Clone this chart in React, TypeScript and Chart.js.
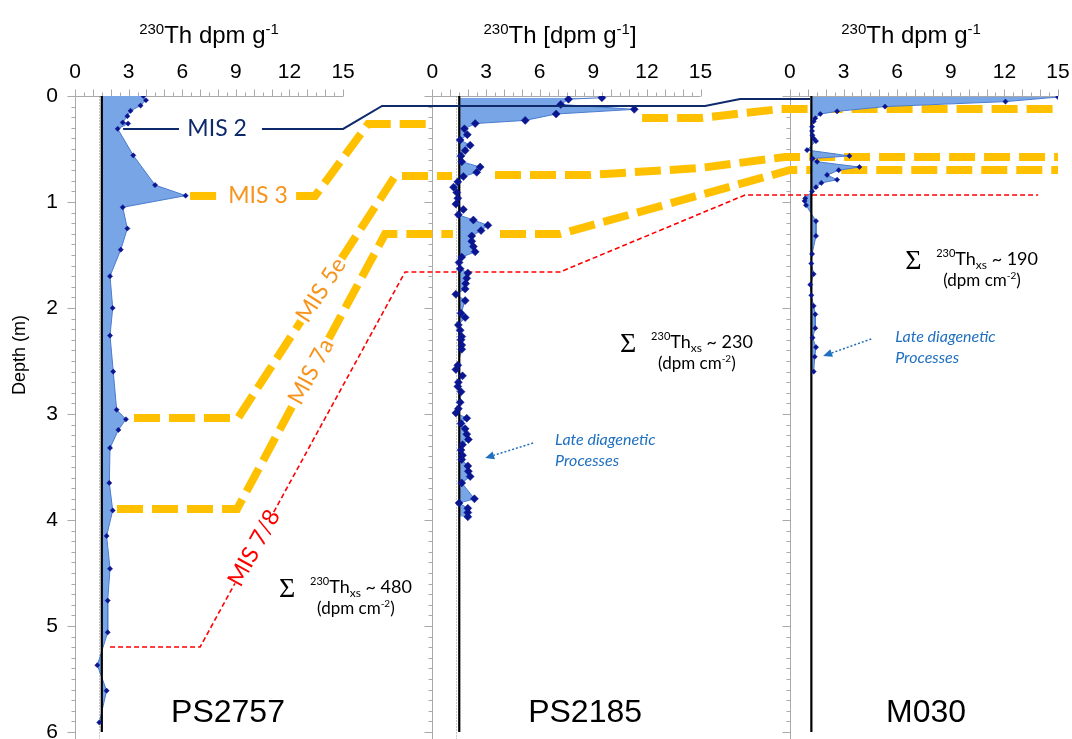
import React, { useEffect, useRef } from 'react';
import { Chart, registerables } from 'chart.js';

Chart.register(...registerables);

// ---------------- data ----------------
// each core panel is placed on one shared horizontal axis; panel n starts at panelOffsets[n]
const panelOffsets = [0, 20, 40];
const thTickValues = [0, 3, 6, 9, 12, 15];
const depthTicks = [0, 1, 2, 3, 4, 5, 6];
const coreNames = ['PS2757', 'PS2185', 'M030'];
const baselineValues = [1.5, 1.5, 1.2];
const sumValues = ['480', '230', '190'];

const ps2757Depth = [0.0, 0.04, 0.09, 0.14, 0.19, 0.25, 0.26, 0.31, 0.56, 0.84, 0.94, 1.05, 1.25, 1.45, 1.7, 2.0, 2.26, 2.6, 2.96, 3.05, 3.15, 3.32, 3.65, 3.91, 4.15, 4.46, 4.76, 5.06, 5.37, 5.61, 5.91];
const ps2757Th = [3.82, 3.97, 3.67, 3.11, 2.93, 2.67, 2.97, 2.39, 3.26, 4.48, 6.19, 2.67, 2.93, 2.56, 1.96, 2.11, 1.96, 2.14, 2.33, 2.85, 2.43, 1.96, 1.92, 2.11, 1.77, 1.96, 1.83, 1.83, 1.25, 1.77, 1.36];

const ps2185Depth = [0.016, 0.03, 0.08, 0.126, 0.17, 0.23, 0.26, 0.31, 0.365, 0.415, 0.465, 0.515, 0.565, 0.62, 0.67, 0.72, 0.76, 0.81, 0.86, 0.91, 0.965, 1.02, 1.07, 1.12, 1.17, 1.22, 1.27, 1.32, 1.37, 1.42, 1.47, 1.52, 1.57, 1.63, 1.67, 1.72, 1.77, 1.82, 1.87, 1.93, 2.05, 2.09, 2.16, 2.21, 2.27, 2.3, 2.35, 2.39, 2.54, 2.58, 2.64, 2.7, 2.74, 2.79, 2.89, 2.95, 2.99, 3.04, 3.09, 3.14, 3.19, 3.24, 3.29, 3.34, 3.39, 3.43, 3.49, 3.54, 3.59, 3.65, 3.8, 3.84, 3.89, 3.93, 3.97];
const ps2185Th = [9.48, 7.61, 7.18, 11.29, 6.92, 5.19, 2.39, 1.79, 1.95, 1.55, 2.11, 1.83, 1.6, 1.64, 2.67, 2.48, 1.73, 1.42, 1.18, 1.36, 1.42, 1.31, 1.73, 1.45, 2.29, 3.1, 2.72, 2.2, 2.2, 2.29, 2.39, 1.64, 1.49, 1.55, 1.98, 1.92, 1.86, 1.83, 1.31, 1.83, 1.6, 1.83, 1.45, 1.55, 1.64, 1.6, 1.64, 1.64, 1.42, 1.31, 1.68, 1.45, 1.42, 1.6, 1.55, 1.45, 1.31, 1.92, 1.6, 1.83, 1.92, 2.01, 1.68, 1.6, 1.68, 1.64, 1.98, 2.01, 2.11, 1.64, 2.35, 1.49, 1.98, 1.98, 1.98];

const m030Depth = [0.01, 0.053, 0.1, 0.145, 0.17, 0.21, 0.24, 0.29, 0.33, 0.37, 0.4, 0.425, 0.51, 0.565, 0.59, 0.62, 0.67, 0.7, 0.745, 0.79, 0.82, 0.86, 0.9, 0.965, 0.99, 1.03, 1.18, 1.32, 1.49, 1.58, 1.68, 1.78, 1.88, 1.98, 2.06, 2.19, 2.28, 2.37, 2.46, 2.6];
const m030Th = [15.0, 12.06, 5.32, 2.64, 1.7, 1.42, 1.33, 1.24, 1.24, 1.26, 1.33, 1.46, 0.96, 3.33, 1.27, 1.52, 3.89, 2.73, 2.08, 2.64, 1.76, 1.46, 1.24, 0.86, 0.82, 0.9, 1.46, 1.46, 1.24, 1.2, 1.33, 1.14, 1.2, 1.33, 1.42, 1.42, 1.27, 1.46, 1.39, 1.33];

// correlation lines: [shared-axis position, depth (m)]
const mis2Line = [
  [[2.69, 0.311], [5.82, 0.311]],
  [[10.46, 0.311], [15.0, 0.311], [17.18, 0.094], [35.25, 0.094], [37.21, 0.028], [41.13, 0.028]],
];
const mis3Line = [
  [[6.44, 0.943], [8.0, 0.943]],
  [[12.37, 0.943], [13.43, 0.943], [16.4, 0.264], [19.98, 0.264]],
  [[31.73, 0.208], [34.97, 0.208], [39.45, 0.123], [55.0, 0.123]],
];
const mis5eLine = [
  [[3.3, 3.038], [9.12, 3.038], [12.64, 2.125]],
  [[14.92, 1.531], [17.91, 0.755], [21.1, 0.755]],
  [[23.5, 0.745], [28.82, 0.745], [34.97, 0.679], [39.73, 0.575], [55.0, 0.575]],
];
const mis7aLine = [
  [[2.35, 3.896], [9.07, 3.896], [12.21, 2.91]],
  [[14.2, 2.288], [17.35, 1.302], [21.15, 1.302]],
  [[23.78, 1.302], [27.14, 1.302], [40.01, 0.698], [55.0, 0.698]],
];
const mis78Line = [
  [[1.96, 5.198], [7.0, 5.198], [8.95, 4.597]],
  [[11.12, 3.925], [18.47, 1.66], [27.14, 1.66], [37.49, 0.934], [53.89, 0.934]],
];

// ---------------- styles / layout ----------------
const SANS = '"Liberation Sans", Arial, sans-serif';
const CAL = 'Lato, "Open Sans", sans-serif';
const NAVY = '#0E2A6B';
const ORANGE_TXT = '#F7941D';
const YELLOW = '#FFC000';
const RED = '#FF0000';
const DIAG_BLUE = '#1F6FC0';
const FILL = '#78A5E6';
const EDGE = '#4A7BD0';
const MARK = '#0A1590';
const markerRadius = [2.6, 4, 2.6];

const misLabels = [
  { text: 'MIS 2', x: 7.95, y: 0.311, angle: 0, color: NAVY },
  { text: 'MIS 3', x: 10.24, y: 0.943, angle: 0, color: ORANGE_TXT },
  { text: 'MIS 5e', x: 13.77, y: 1.83, angle: -57.0, color: ORANGE_TXT },
  { text: 'MIS 7a', x: 13.21, y: 2.6, angle: -61.7, color: ORANGE_TXT },
  { text: 'MIS 7/8', x: 10.02, y: 4.264, angle: -61.3, color: RED },
];
const titleCenters = [7.5, 27.14, 46.78];
const nameCenters = [8.56, 28.54, 47.62];
const sumAnchors = [[11.42, 4.689], [30.5, 2.377], [46.45, 1.594]];
const diagTexts = [[26.86, 3.29], [45.89, 2.32]];
const diagArrows = [[[25.63, 3.274], [22.95, 3.415]], [[44.55, 2.292], [41.86, 2.453]]];

type Part = { t: string; font: string; dy?: number };
function drawRich(ctx: CanvasRenderingContext2D, parts: Part[], x: number, y: number, align: 'left' | 'center') {
  const widths = parts.map((p) => {
    ctx.font = p.font;
    return ctx.measureText(p.t).width;
  });
  const total = widths.reduce((a, b) => a + b, 0);
  let cx = align === 'center' ? x - total / 2 : x;
  ctx.textAlign = 'left';
  ctx.textBaseline = 'alphabetic';
  parts.forEach((p, i) => {
    ctx.font = p.font;
    ctx.fillText(p.t, cx, y + (p.dy || 0));
    cx += widths[i];
  });
}

const panelPlugin = {
  id: 'panelDecor',
  beforeDatasetsDraw(chart: any) {
    const { ctx, scales } = chart;
    const x = scales.x;
    const y = scales.y;
    ctx.save();
    ctx.strokeStyle = '#A9A9A9';
    ctx.lineWidth = 1;
    const yTop = Math.round(y.getPixelForValue(0)) + 0.5;
    panelOffsets.forEach((o) => {
      const x0 = Math.round(x.getPixelForValue(o)) + 0.5;
      const x1 = x.getPixelForValue(o + 15);
      ctx.beginPath();
      ctx.moveTo(x0, yTop);
      ctx.lineTo(x1, yTop);
      for (let k = 0; k <= 30; k++) {
        const px = Math.round(x.getPixelForValue(o + k * 0.5)) + 0.5;
        const len = k % 2 === 0 ? 7 : 4;
        ctx.moveTo(px, yTop);
        ctx.lineTo(px, yTop - len);
      }
      ctx.moveTo(x0, yTop);
      ctx.lineTo(x0, chart.height);
      for (let k = 0; k <= 60; k++) {
        const py = Math.round(y.getPixelForValue(k / 10)) + 0.5;
        const len = k % 10 === 0 ? 8 : 4;
        ctx.moveTo(x0, py);
        ctx.lineTo(x0 - len, py);
      }
      ctx.stroke();
    });
    // dotted reference lines beside the baselines
    ctx.setLineDash([1, 2]);
    ctx.strokeStyle = '#8C8C8C';
    [0, 1].forEach((i) => {
      const px = Math.round(x.getPixelForValue(panelOffsets[i] + baselineValues[i] - 0.17)) + 0.5;
      ctx.beginPath();
      ctx.moveTo(px, yTop);
      ctx.lineTo(px, chart.height);
      ctx.stroke();
    });
    ctx.restore();
  },
  afterDraw(chart: any) {
    const { ctx, scales } = chart;
    const x = scales.x;
    const y = scales.y;
    const P = (gx: number, d: number) => [x.getPixelForValue(gx), y.getPixelForValue(d)];
    ctx.save();
    // titles
    ctx.fillStyle = '#000';
    const titleY = y.getPixelForValue(0) - 53;
    titleCenters.forEach((c, i) => {
      const parts: Part[] =
        i === 1
          ? [
              { t: '230', font: `15px ${SANS}`, dy: -9 },
              { t: 'Th [dpm g', font: `24px ${SANS}` },
              { t: '-1', font: `15px ${SANS}`, dy: -9 },
              { t: ']', font: `24px ${SANS}` },
            ]
          : [
              { t: '230', font: `15px ${SANS}`, dy: -9 },
              { t: 'Th dpm g', font: `24px ${SANS}` },
              { t: '-1', font: `15px ${SANS}`, dy: -9 },
            ];
      drawRich(ctx, parts, x.getPixelForValue(c), titleY, 'center');
    });
    // y title
    ctx.save();
    ctx.translate(20, 355);
    ctx.rotate(-Math.PI / 2);
    ctx.font = `18px ${SANS}`;
    ctx.textAlign = 'center';
    ctx.textBaseline = 'middle';
    ctx.fillText('Depth (m)', 0, 0);
    ctx.restore();
    // core names
    ctx.font = `32px ${SANS}`;
    ctx.textAlign = 'center';
    ctx.textBaseline = 'middle';
    nameCenters.forEach((c, i) => {
      const [px, py] = P(c, 5.82);
      ctx.fillText(coreNames[i], px, py);
    });
    // MIS labels
    misLabels.forEach((l) => {
      const [px, py] = P(l.x, l.y);
      ctx.save();
      ctx.translate(px, py);
      ctx.rotate((l.angle * Math.PI) / 180);
      ctx.font = `23px ${CAL}`;
      ctx.fillStyle = l.color;
      ctx.textAlign = 'center';
      ctx.textBaseline = 'middle';
      ctx.fillText(l.text, 0, 0);
      ctx.restore();
    });
    // sums
    sumAnchors.forEach(([gx, d], i) => {
      const [px, py] = P(gx, d);
      ctx.fillStyle = '#000';
      ctx.font = `28px "Liberation Serif", serif`;
      ctx.textAlign = 'left';
      ctx.textBaseline = 'alphabetic';
      ctx.fillText('\u03A3', px, py + 4);
      drawRich(
        ctx,
        [
          { t: '230', font: `11px ${CAL}`, dy: -8 },
          { t: 'Th', font: `18px ${CAL}` },
          { t: 'xs', font: `12px ${CAL}`, dy: 4 },
          { t: ' ~ ' + sumValues[i], font: `18px ${CAL}` },
        ],
        px + 31,
        py,
        'left'
      );
      drawRich(
        ctx,
        [
          { t: '(dpm cm', font: `17px ${CAL}` },
          { t: '-2', font: `10px ${CAL}`, dy: -7 },
          { t: ')', font: `17px ${CAL}` },
        ],
        px + 38,
        py + 21,
        'left'
      );
    });
    // late diagenetic texts
    ctx.fillStyle = DIAG_BLUE;
    diagTexts.forEach(([gx, d]) => {
      const [px, py] = P(gx, d);
      ctx.font = `italic 16px ${CAL}`;
      ctx.textAlign = 'left';
      ctx.textBaseline = 'alphabetic';
      ctx.fillText('Late diagenetic', px, py);
      ctx.fillText('Processes', px, py + 21);
    });
    diagArrows.forEach(([s, e]) => {
      const [x0, y0] = P(s[0], s[1]);
      const [x1, y1] = P(e[0], e[1]);
      const ang = Math.atan2(y1 - y0, x1 - x0);
      const head = 9;
      const bx = x1 - Math.cos(ang) * head;
      const by = y1 - Math.sin(ang) * head;
      ctx.strokeStyle = DIAG_BLUE;
      ctx.lineWidth = 1.5;
      ctx.setLineDash([2, 2]);
      ctx.beginPath();
      ctx.moveTo(x0, y0);
      ctx.lineTo(bx, by);
      ctx.stroke();
      ctx.setLineDash([]);
      ctx.beginPath();
      ctx.moveTo(x1, y1);
      ctx.lineTo(bx + Math.cos(ang + Math.PI / 2) * 4, by + Math.sin(ang + Math.PI / 2) * 4);
      ctx.lineTo(bx + Math.cos(ang - Math.PI / 2) * 4, by + Math.sin(ang - Math.PI / 2) * 4);
      ctx.closePath();
      ctx.fill();
    });
    ctx.restore();
  },
};

function buildDatasets() {
  const cores = [
    { depth: ps2757Depth, th: ps2757Th },
    { depth: ps2185Depth, th: ps2185Th },
    { depth: m030Depth, th: m030Th },
  ];
  const ds: any[] = [];
  // baselines (indices 0..2)
  cores.forEach((_, i) => {
    const bx = panelOffsets[i] + baselineValues[i];
    ds.push({
      data: [{ x: bx, y: 0 }, { x: bx, y: 6 }],
      borderColor: '#000',
      borderWidth: 2.2,
      pointRadius: 0,
      fill: false,
      order: 10,
    });
  });
  cores.forEach((c, i) => {
    const pts = c.depth.map((d, k) => ({ x: panelOffsets[i] + c.th[k], y: d }));
    ds.push({
      data: pts,
      borderColor: EDGE,
      borderWidth: 1,
      backgroundColor: FILL,
      fill: i,
      pointRadius: 0,
      order: 15,
    });
    ds.push({
      data: pts,
      showLine: false,
      pointStyle: 'rectRot',
      pointRadius: markerRadius[i],
      pointBackgroundColor: MARK,
      pointBorderColor: MARK,
      pointBorderWidth: 0.5,
      fill: false,
      order: 5,
    });
  });
  const addLines = (segs: number[][][], color: string, width: number, dash: number[], order: number) => {
    segs.forEach((seg) => {
      ds.push({
        data: seg.map(([gx, d]) => ({ x: gx, y: d })),
        borderColor: color,
        borderWidth: width,
        borderDash: dash,
        borderCapStyle: 'butt',
        borderJoinStyle: 'miter',
        pointRadius: 0,
        fill: false,
        order,
      });
    });
  };
  addLines(mis3Line, YELLOW, 8, [26, 9], 20);
  addLines(mis5eLine, YELLOW, 8, [26, 9], 20);
  addLines(mis7aLine, YELLOW, 8, [26, 9], 20);
  addLines(mis78Line, RED, 1.6, [5, 3], 20);
  addLines(mis2Line, NAVY, 2, [], 1);
  return ds;
}

export default function App() {
  const ref = useRef<HTMLCanvasElement>(null);
  useEffect(() => {
    const chart = new Chart(ref.current as HTMLCanvasElement, {
      type: 'line',
      data: { datasets: buildDatasets() },
      options: {
        animation: false,
        responsive: false,
        indexAxis: 'y',
        events: [],
        layout: { padding: { top: 0, left: 0, right: 14, bottom: 7 } },
        plugins: {
          legend: { display: false },
          tooltip: { enabled: false },
          filler: { propagate: false },
        },
        scales: {
          x: {
            type: 'linear',
            position: 'top',
            min: 0,
            max: 55,
            grid: { display: false, drawTicks: false },
            border: { display: false },
            afterBuildTicks: (axis: any) => {
              axis.ticks = panelOffsets.flatMap((o) => thTickValues.map((t) => ({ value: o + t })));
            },
            afterFit: (axis: any) => {
              axis.height = 96;
              axis.paddingLeft = 0;
              axis.paddingRight = 0;
            },
            ticks: {
              autoSkip: false,
              maxRotation: 0,
              padding: 11,
              color: '#000',
              font: { family: SANS, size: 21 },
              callback: (v: any) => {
                const val = Number(v);
                let o = 0;
                panelOffsets.forEach((p) => {
                  if (val >= p - 1e-6) o = p;
                });
                return String(Math.round(val - o));
              },
            },
          },
          y: {
            type: 'linear',
            reverse: true,
            min: 0,
            max: 6,
            grid: { display: false, drawTicks: false },
            border: { display: false },
            afterBuildTicks: (axis: any) => {
              axis.ticks = depthTicks.map((v) => ({ value: v }));
            },
            afterFit: (axis: any) => {
              axis.width = 75;
              axis.paddingTop = 0;
              axis.paddingBottom = 0;
            },
            ticks: {
              padding: 17,
              color: '#000',
              font: { family: SANS, size: 21 },
            },
          },
        },
      } as any,
      plugins: [panelPlugin],
    });
    return () => chart.destroy();
  }, []);
  return (
    <div style={{ position: 'fixed', left: 0, top: 0, width: 1072, height: 739, background: '#fff' }}>
      <canvas ref={ref} width={1072} height={739} style={{ display: 'block' }} />
    </div>
  );
}
